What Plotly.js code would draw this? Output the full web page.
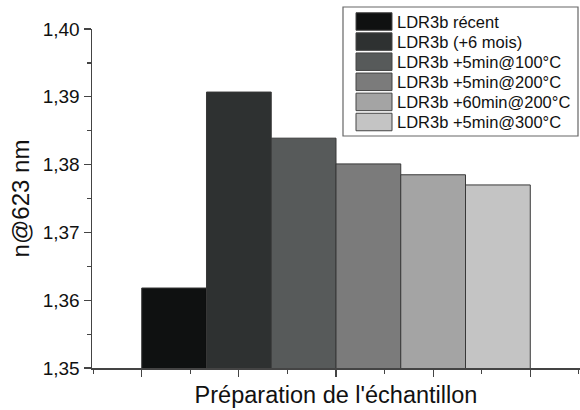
<!DOCTYPE html>
<html>
<head>
<meta charset="utf-8">
<script src="https://cdn.plot.ly/plotly-3.0.1.min.js"></script>
<style>html,body{margin:0;padding:0;background:#fff}#chart{width:580px;height:410px}</style>
</head>
<body>
<div id="chart"></div>
<script>
const seriesNames = ["LDR3b récent", "LDR3b (+6 mois)", "LDR3b +5min@100°C", "LDR3b +5min@200°C", "LDR3b +60min@200°C", "LDR3b +5min@300°C"];
const seriesValues = [1.3618, 1.3907, 1.3839, 1.3801, 1.3785, 1.3770];
const seriesColors = ["#0f1111", "#2e3131", "#575a5a", "#7b7b7b", "#a4a4a4", "#c4c4c4"];
const yTitle = "n@623 nm";
const xTitle = "Préparation de l'échantillon";

const W = 580, H = 410;
const M = {l: 92, r: 0, t: 29, b: 42};
const plotW = W - M.l - M.r, plotH = H - M.t - M.b;
const px = v => (v - M.l) / plotW;          // pixel x -> paper x
const py = v => (H - M.b - v) / plotH;      // pixel y -> paper y

const traces = seriesNames.map((name, i) => ({
  type: "bar",
  name: name,
  x: [0],
  y: [seriesValues[i]],
  marker: {color: seriesColors[i], line: {color: "#383838", width: 1}},
  hoverinfo: "name+y",
  showlegend: false
}));

const font = "Liberation Sans, Arial, sans-serif";

// Legend (boxed key matching the original's large swatches)
const legBox = {x0: 343, x1: 578, y0: 7, y1: 136};
const rowTop = 21.5, rowStep = 20.1, swX0 = 356, swX1 = 392, swH = 17.5, textX = 396;
const shapes = [{
  type: "rect", xref: "paper", yref: "paper", layer: "above",
  x0: px(legBox.x0), x1: px(legBox.x1), y0: py(legBox.y1), y1: py(legBox.y0),
  fillcolor: "#fff", line: {color: "#666", width: 1.2}
}];
const annotations = [];
seriesNames.forEach((name, i) => {
  const cy = rowTop + i * rowStep;
  shapes.push({
    type: "rect", xref: "paper", yref: "paper", layer: "above",
    x0: px(swX0), x1: px(swX1), y0: py(cy + swH / 2), y1: py(cy - swH / 2),
    fillcolor: seriesColors[i], line: {color: "#444", width: 1}
  });
  annotations.push({
    xref: "paper", yref: "paper", x: px(textX), y: py(cy),
    xanchor: "left", yanchor: "middle", showarrow: false,
    text: name, borderpad: 0,
    font: {size: 16.5, family: font, color: "#111"}
  });
});

const layout = {
  width: W, height: H,
  margin: M,
  paper_bgcolor: "#fff", plot_bgcolor: "#fff",
  barmode: "group", bargap: 0, bargroupgap: 0,
  separators: ", ",
  font: {family: font, color: "#111"},
  showlegend: false,
  shapes: shapes,
  annotations: annotations,
  xaxis: {
    range: [-0.628, 0.628],
    showgrid: false, zeroline: false,
    showline: true, linecolor: "#444", linewidth: 1.5,
    ticks: "outside", tickcolor: "#444", tickwidth: 1.2, ticklen: 7,
    tick0: -0.5, dtick: 0.25, showticklabels: false,
    minor: {ticks: "outside", tick0: -0.5, dtick: 0.125, ticklen: 4, tickcolor: "#444", tickwidth: 1.2},
    title: {text: xTitle, font: {size: 23.5, family: font, color: "#111"}, standoff: 11}
  },
  yaxis: {
    range: [1.35, 1.40],
    showgrid: false, zeroline: false,
    showline: true, linecolor: "#444", linewidth: 1.5,
    ticks: "outside", tickcolor: "#444", tickwidth: 1.2, ticklen: 7,
    tick0: 1.35, dtick: 0.01, tickformat: ".2f",
    tickfont: {size: 19, family: font, color: "#111"},
    minor: {ticks: "outside", dtick: 0.005, ticklen: 4, tickcolor: "#444", tickwidth: 1.2},
    title: {text: yTitle, font: {size: 24, family: font, color: "#111"}, standoff: 6}
  }
};

Plotly.newPlot("chart", traces, layout, {displayModeBar: false, staticPlot: true});
</script>
</body>
</html>
